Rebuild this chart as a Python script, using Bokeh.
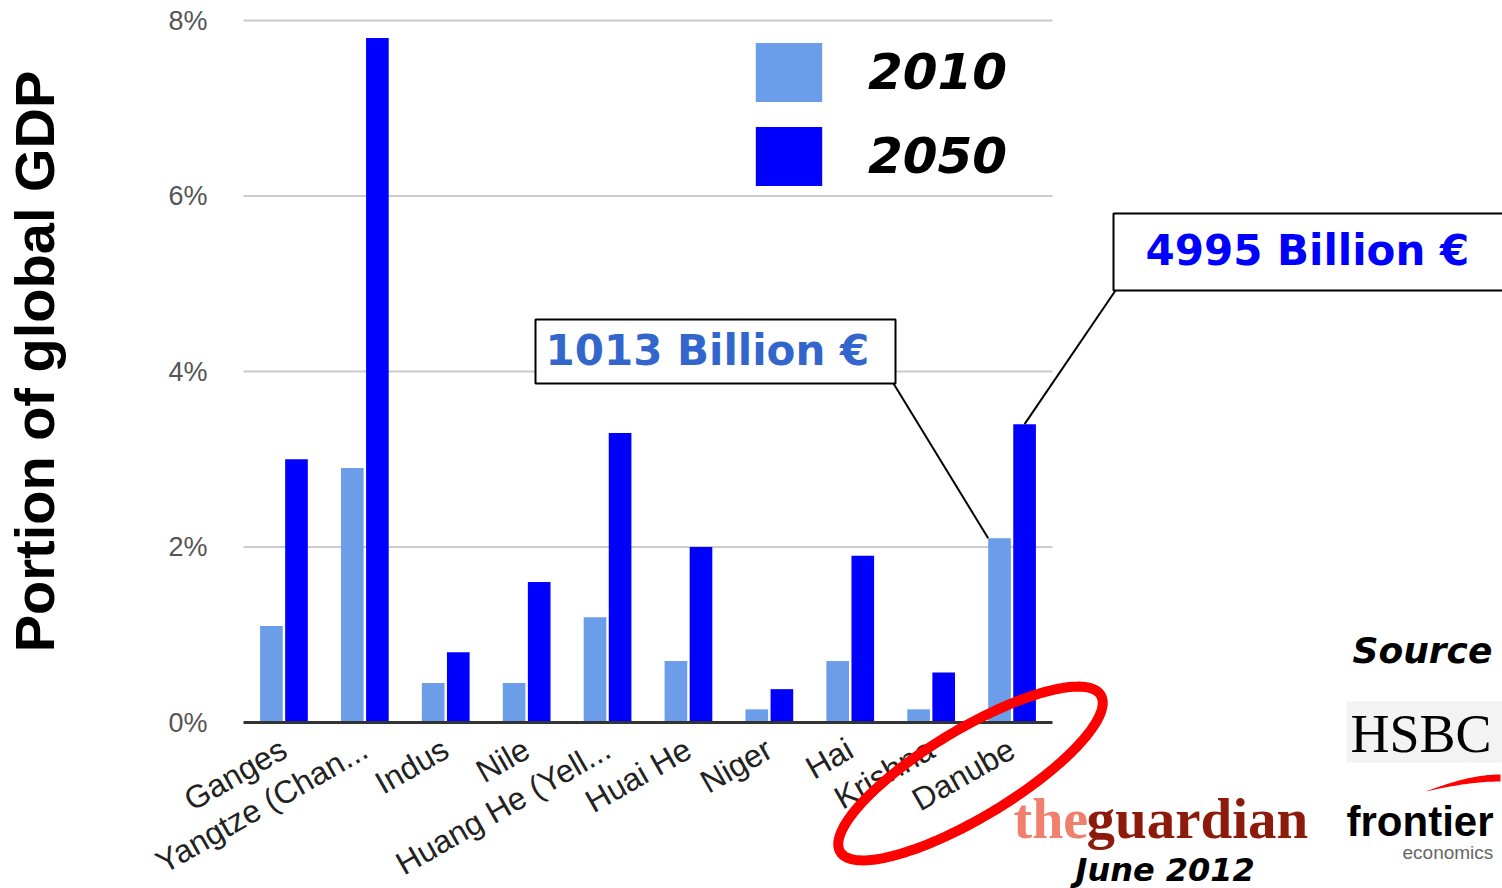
import numpy as np
from bokeh.plotting import figure
from bokeh.models import (ColumnDataSource, Range1d, FixedTicker, Label, Legend, LegendItem,
                          BoxAnnotation, PolyAnnotation, Arrow, LinearAxis)
from bokeh.transform import dodge
from bokeh.embed import file_html
from bokeh.resources import INLINE

# ---------------- data ----------------
rivers = ["Ganges", "Yangtze (Chan...", "Indus", "Nile", "Huang He (Yell...",
          "Huai He", "Niger", "Hai", "Krishna", "Danube"]
gdp_2010 = [1.1, 2.9, 0.45, 0.45, 1.2, 0.7, 0.15, 0.7, 0.15, 2.1]
gdp_2050 = [3.0, 7.8, 0.8, 1.6, 3.3, 2.0, 0.38, 1.9, 0.57, 3.4]
years = ["2010", "2050"]
y_ticks = [0, 2, 4, 6, 8]
y_tick_labels = ["0%", "2%", "4%", "6%", "8%"]
callout_2010 = "1013 Billion €"
callout_2050 = "4995 Billion €"

LIGHT = "#6b9de9"
DARK = "#0000ff"

# ---------------- layout (page px) ----------------
W, H = 1502, 888
PAGE_L, PAGE_T = 0, 0
PLOT_L, PLOT_R, PLOT_T, PLOT_B = 243, 1052, 20, 722
n = len(rivers)
ux = (PLOT_R - PLOT_L) / n          # px per category
uy = (PLOT_B - PLOT_T) / y_ticks[-1]  # px per percent
x_start = -(PLOT_L - PAGE_L) / ux
x_end = n + (PAGE_L + W - PLOT_R) / ux
y_start = -(PAGE_T + H - PLOT_B) / uy
y_end = y_ticks[-1] + (PLOT_T - PAGE_T) / uy

def sx(px):  # page px -> frame screen x
    return px - PAGE_L
def sy(py):  # page px -> frame screen y (from bottom)
    return PAGE_T + H - py

x_pos = [i + 0.5 for i in range(n)]
src = ColumnDataSource(dict(xpos=x_pos, v2010=gdp_2010, v2050=gdp_2050))

p = figure(width=W, height=H, x_range=Range1d(x_start, x_end),
           y_range=Range1d(y_start, y_end), output_backend="svg", toolbar_location=None,
           x_axis_location=None, y_axis_location=None, min_border=0)
p.outline_line_color = None
p.xgrid.visible = False
p.ygrid.visible = False

# gridlines over the plot width only
grid_src = ColumnDataSource(dict(y=y_ticks[1:]))
p.segment(x0=0, x1=n, y0="y", y1="y", source=grid_src, line_color="#cccccc", line_width=2)

OFF, BW = 0.155, 0.28
r1 = p.vbar(x=dodge("xpos", -OFF), top="v2010", width=BW, source=src,
            fill_color=LIGHT, line_color=None)
r2 = p.vbar(x=dodge("xpos", OFF), top="v2050", width=BW, source=src,
            fill_color=DARK, line_color=None)

# axes
xaxis = LinearAxis(fixed_location=0, ticker=FixedTicker(ticks=x_pos),
                   major_label_overrides=dict(zip(x_pos, rivers)), bounds=(0, n))
xaxis.axis_line_color = "#333333"
xaxis.axis_line_width = 3
xaxis.major_tick_line_color = None
xaxis.minor_tick_line_color = None
xaxis.major_label_orientation = 0.52
xaxis.major_label_standoff = 18
xaxis.major_label_text_font = "Liberation Sans"
xaxis.major_label_text_font_size = "32px"
xaxis.major_label_text_color = "#222222"
p.add_layout(xaxis, "below")

yaxis = LinearAxis(fixed_location=0, ticker=FixedTicker(ticks=y_ticks),
                   major_label_overrides=dict(zip(y_ticks, y_tick_labels)),
                   bounds=(y_ticks[0], y_ticks[-1] + 0.75))
yaxis.axis_line_color = None
yaxis.major_tick_line_color = None
yaxis.minor_tick_line_color = None
yaxis.major_label_standoff = 30
yaxis.major_label_text_font = "Liberation Sans"
yaxis.major_label_text_font_size = "27px"
yaxis.major_label_text_color = "#555555"
yaxis.axis_label = "Portion of global GDP"
yaxis.axis_label_text_font = "Liberation Sans"
yaxis.axis_label_text_font_size = "56px"
yaxis.axis_label_text_font_style = "bold"
yaxis.axis_label_text_color = "black"
yaxis.axis_label_standoff = 99
p.add_layout(yaxis, "left")

# legend
legend = Legend(items=[LegendItem(label=years[0], renderers=[r1]),
                       LegendItem(label=years[1], renderers=[r2])],
                location=(sx(747), sy(193)), glyph_width=83, glyph_height=74,
                spacing=10, label_standoff=38, padding=0, margin=0,
                border_line_color=None, background_fill_alpha=0,
                label_text_font="DejaVu Sans", label_text_font_style="bold italic",
                label_text_font_size="50px", label_text_color="black")
p.add_layout(legend)

def box(l, r, t, b, **kw):
    return BoxAnnotation(left=sx(l), right=sx(r), top=sy(t), bottom=sy(b),
                         left_units="screen", right_units="screen", top_units="screen",
                         bottom_units="screen", **kw)

def label(x, y, text, **kw):
    return Label(x=sx(x), y=sy(y), x_units="screen", y_units="screen", text=text,
                 text_baseline="alphabetic", text_align="left", **kw)

# callout boxes
p.add_layout(box(535, 895, 319, 383, fill_color="white", fill_alpha=1,
                 line_color="black", line_alpha=1, line_width=2, level="annotation"))
p.add_layout(box(1113, 1560, 213, 290, fill_color="white", fill_alpha=1,
                 line_color="black", line_alpha=1, line_width=2, level="annotation"))
p.add_layout(label(545, 350, callout_2010, text_font="DejaVu Sans", text_font_style="bold",
                   text_font_size="42px", text_color="#3366cc"))
p.add_layout(label(1145, 250, callout_2050, text_font="DejaVu Sans", text_font_style="bold",
                   text_font_size="42px", text_color="#0000ff"))

# leader lines to the Danube bars
di = rivers.index("Danube")
p.add_layout(Arrow(end=None, x_start=sx(893), y_start=sy(383), start_units="screen",
                   x_end=x_pos[di] - OFF - BW / 2, y_end=gdp_2010[di], end_units="data",
                   line_color="black", line_width=2))
p.add_layout(Arrow(end=None, x_start=sx(1115), y_start=sy(290), start_units="screen",
                   x_end=x_pos[di] + OFF, y_end=gdp_2050[di], end_units="data",
                   line_color="black", line_width=2))

# red ellipse around the Danube label
t = np.linspace(0, 2 * np.pi, 160)
ang = np.deg2rad(31)
cx, cy, a, b = 970, 773, 152, 44
ex = cx + a * np.cos(t) * np.cos(ang) - b * np.sin(t) * np.sin(ang)
ey = cy - (a * np.cos(t) * np.sin(ang) + b * np.sin(t) * np.cos(ang))
p.add_layout(PolyAnnotation(xs=[sx(v) for v in ex], ys=[sy(v) for v in ey],
                            xs_units="screen", ys_units="screen", fill_color=None,
                            fill_alpha=0, line_color="red", line_alpha=1, line_width=10))

# guardian logo + date
p.add_layout(label(1013, 818, "the", text_font="Liberation Serif", text_font_style="bold",
                   text_font_size="56px", text_color="#f07f6e"))
p.add_layout(label(1086, 818, "guardian", text_font="Liberation Serif", text_font_style="bold",
                   text_font_size="57px", text_color="#8c1b0c"))
p.add_layout(label(1075, 869, "June 2012", text_font="DejaVu Sans",
                   text_font_style="bold italic", text_font_size="32px", text_color="black"))

# sources
p.add_layout(label(1352, 650, "Source", text_font="DejaVu Sans", text_font_style="bold italic",
                   text_font_size="36px", text_color="black"))
p.add_layout(box(1346, 1502, 701, 762, fill_color="#f3f3f3", fill_alpha=1, line_color=None))
p.add_layout(label(1350, 733, "HSBC", text_font="Liberation Serif", text_font_size="54px",
                   text_color="black"))
sw = np.linspace(0, 1, 30)
swx = list(1425 + 75 * sw) + list(1500 - 75 * sw)
swy = list(791 - 17 * np.sin(sw * np.pi / 2)) + list(781 + 10 * (1 - np.sin((1 - sw) * np.pi / 2)))
p.add_layout(PolyAnnotation(xs=[sx(v) for v in swx], ys=[sy(v) for v in swy],
                            xs_units="screen", ys_units="screen", fill_color="red",
                            fill_alpha=1, line_color=None))
p.add_layout(label(1346, 821, "frontier", text_font="Liberation Sans", text_font_style="bold",
                   text_font_size="42px", text_color="black"))
p.add_layout(label(1402, 852, "economics", text_font="Liberation Sans",
                   text_font_size="19px", text_color="#666666"))

open("out.html", "w").write(file_html(p, INLINE))
